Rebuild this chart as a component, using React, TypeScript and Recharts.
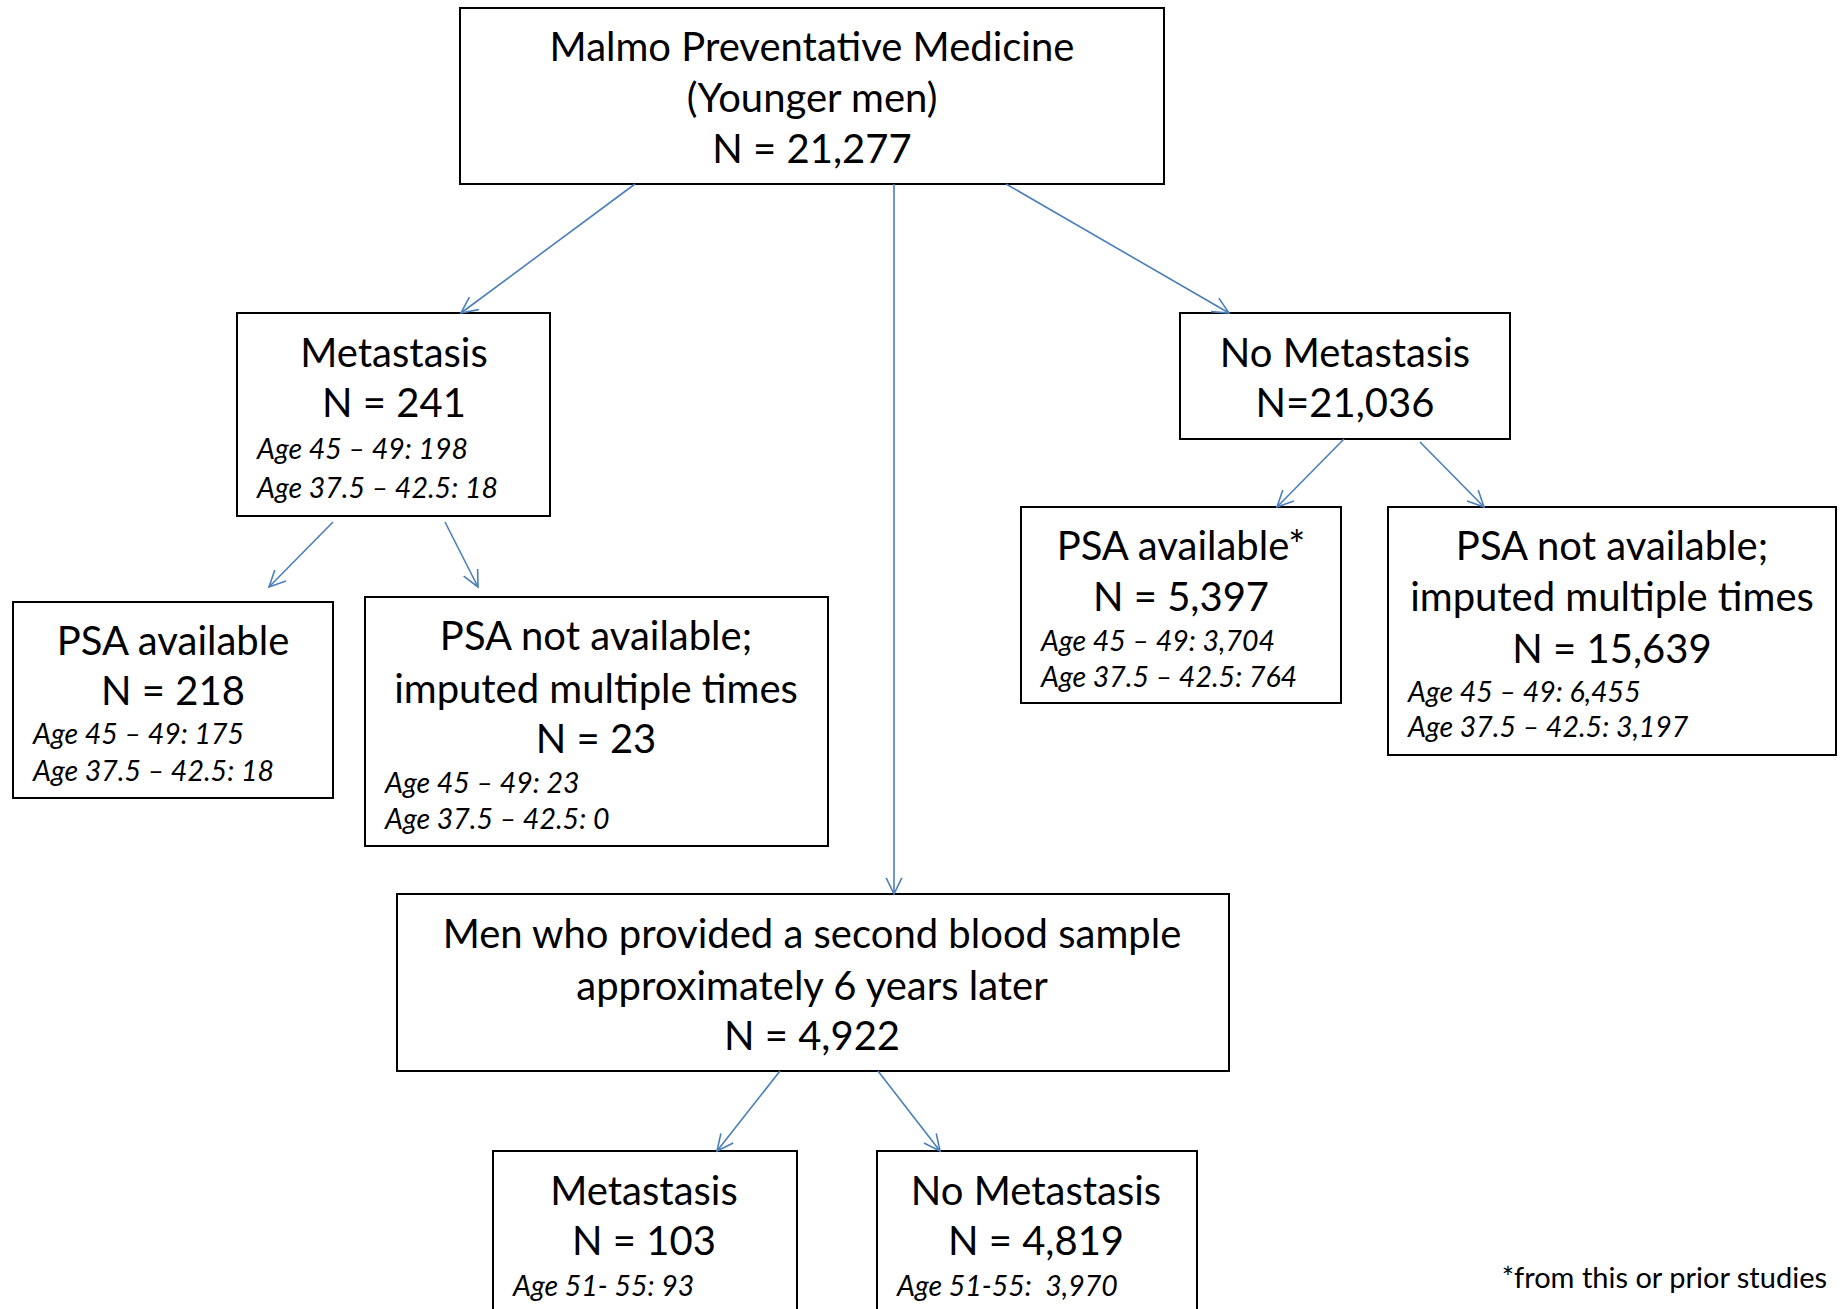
import React from "react";
import { ComposedChart, XAxis, YAxis, ReferenceArea, ReferenceLine, Scatter } from "recharts";

// Flowchart drawn in a 1840 x 1309 data space (x right, y down)
const boxes = [
  { id: "root", x1: 460, x2: 1164, y1: 8, y2: 184 },
  { id: "met", x1: 237, x2: 550, y1: 313, y2: 516 },
  { id: "nomet", x1: 1180, x2: 1510, y1: 313, y2: 439 },
  { id: "metPsa", x1: 13, x2: 333, y1: 602, y2: 798 },
  { id: "metNoPsa", x1: 365, x2: 828, y1: 597, y2: 846 },
  { id: "nometPsa", x1: 1021, x2: 1341, y1: 507, y2: 703 },
  { id: "nometNoPsa", x1: 1388, x2: 1836, y1: 507, y2: 755 },
  { id: "second", x1: 397, x2: 1229, y1: 894, y2: 1071 },
  { id: "secMet", x1: 493, x2: 797, y1: 1151, y2: 1330 },
  { id: "secNoMet", x1: 877, x2: 1197, y1: 1151, y2: 1330 },
];

const arrows = [
  { x1: 635, y1: 184, x2: 461, y2: 313 },
  { x1: 894, y1: 184, x2: 894, y2: 894 },
  { x1: 1006, y1: 184, x2: 1229, y2: 313 },
  { x1: 333, y1: 522, x2: 269, y2: 587 },
  { x1: 445, y1: 522, x2: 478, y2: 587 },
  { x1: 1344, y1: 439, x2: 1277, y2: 507 },
  { x1: 1420, y1: 442, x2: 1484, y2: 507 },
  { x1: 780, y1: 1071, x2: 717, y2: 1151 },
  { x1: 878, y1: 1071, x2: 940, y2: 1151 },
];

// heading lines (centred)
const headingLines = [
  { x: 812, y: 46, label: "Malmo Preventative Medicine" },
  { x: 812, y: 97, label: "(Younger men)" },
  { x: 812, y: 148, label: "N = 21,277" },
  { x: 394, y: 352, label: "Metastasis" },
  { x: 394, y: 402, label: "N = 241" },
  { x: 1345, y: 352, label: "No Metastasis" },
  { x: 1345, y: 402, label: "N=21,036" },
  { x: 173, y: 640, label: "PSA available" },
  { x: 173, y: 690, label: "N = 218" },
  { x: 596, y: 635, label: "PSA not available;" },
  { x: 596, y: 688, label: "imputed multiple times" },
  { x: 596, y: 738, label: "N = 23" },
  { x: 1181, y: 545, label: "PSA available*" },
  { x: 1181, y: 596, label: "N = 5,397" },
  { x: 1612, y: 545, label: "PSA not available;" },
  { x: 1612, y: 596, label: "imputed multiple times" },
  { x: 1612, y: 648, label: "N = 15,639" },
  { x: 812, y: 933, label: "Men who provided a second blood sample" },
  { x: 812, y: 985, label: "approximately 6 years later" },
  { x: 812, y: 1035, label: "N = 4,922" },
  { x: 644, y: 1190, label: "Metastasis" },
  { x: 644, y: 1240, label: "N = 103" },
  { x: 1036, y: 1190, label: "No Metastasis" },
  { x: 1036, y: 1240, label: "N = 4,819" },
];

// age breakdown lines (italic, left aligned)
const ageLines = [
  { x: 257, y: 448, label: "Age 45 \u2013 49: 198" },
  { x: 257, y: 487, label: "Age 37.5 \u2013 42.5: 18" },
  { x: 33, y: 733, label: "Age 45 \u2013 49: 175" },
  { x: 33, y: 770, label: "Age 37.5 \u2013 42.5: 18" },
  { x: 385, y: 782, label: "Age 45 \u2013 49: 23" },
  { x: 385, y: 818, label: "Age 37.5 \u2013 42.5: 0" },
  { x: 1041, y: 640, label: "Age 45 \u2013 49: 3,704" },
  { x: 1041, y: 676, label: "Age 37.5 \u2013 42.5: 764" },
  { x: 1408, y: 691, label: "Age 45 \u2013 49: 6,455" },
  { x: 1408, y: 726, label: "Age 37.5 \u2013 42.5: 3,197" },
  { x: 513, y: 1285, label: "Age 51- 55: 93" },
  { x: 897, y: 1285, label: "Age 51-55:  3,970" },
];

const footnotes = [{ x: 1827, y: 1276, label: "*from this or prior studies" }];

const FONT = "Lato, 'Open Sans', sans-serif";
const ARROW = "#4A7EBB";

const Arrow = (props: any) => {
  const { x1, y1, x2, y2 } = props;
  const ang = Math.atan2(y2 - y1, x2 - x1);
  const len = 18;
  const spread = Math.PI / 7;
  const a1 = ang + Math.PI - spread;
  const a2 = ang + Math.PI + spread;
  return (
    <g>
      <line x1={x1} y1={y1} x2={x2} y2={y2} stroke={ARROW} strokeWidth={1.6} />
      <polyline
        points={`${x2 + len * Math.cos(a1)},${y2 + len * Math.sin(a1)} ${x2},${y2} ${x2 + len * Math.cos(a2)},${y2 + len * Math.sin(a2)}`}
        fill="none"
        stroke={ARROW}
        strokeWidth={1.6}
      />
    </g>
  );
};

const makeText = (size: number, anchor: string, italic: boolean, dy: number) => (p: any) => (
  <text
    x={p.cx}
    y={p.cy + dy}
    textAnchor={anchor}
    dominantBaseline="central"
    fontFamily={FONT}
    fontSize={size}
    fontStyle={italic ? "italic" : "normal"}
    fill="#000"
    style={{ whiteSpace: "pre" }}
  >
    {p.payload.label}
  </text>
);

export default function App() {
  return (
    <div style={{ width: 1840, height: 1309, background: "#fff" }}>
      <style>{`body{margin:0;overflow:hidden;background:#fff}`}</style>
      <ComposedChart width={1840} height={1309} margin={{ top: 0, right: 0, bottom: 0, left: 0 }}>
        <XAxis type="number" dataKey="x" domain={[0, 1840]} hide allowDataOverflow />
        <YAxis type="number" dataKey="y" domain={[0, 1309]} reversed hide allowDataOverflow />
        {boxes.map((b) => (
          <ReferenceArea
            key={b.id}
            x1={b.x1}
            x2={b.x2}
            y1={b.y1}
            y2={b.y2}
            fill="#fff"
            fillOpacity={1}
            stroke="#000"
            strokeWidth={2}
            ifOverflow="visible"
          />
        ))}
        {arrows.map((a, i) => (
          <ReferenceLine
            key={i}
            segment={[
              { x: a.x1, y: a.y1 },
              { x: a.x2, y: a.y2 },
            ]}
            ifOverflow="visible"
            shape={Arrow}
          />
        ))}
        <Scatter data={headingLines} dataKey="y" isAnimationActive={false} shape={makeText(40, "middle", false, 0)} />
        <Scatter data={ageLines} dataKey="y" isAnimationActive={false} shape={makeText(28.5, "start", true, 0)} />
        <Scatter data={footnotes} dataKey="y" isAnimationActive={false} shape={makeText(29, "end", false, 0)} />
      </ComposedChart>
    </div>
  );
}
